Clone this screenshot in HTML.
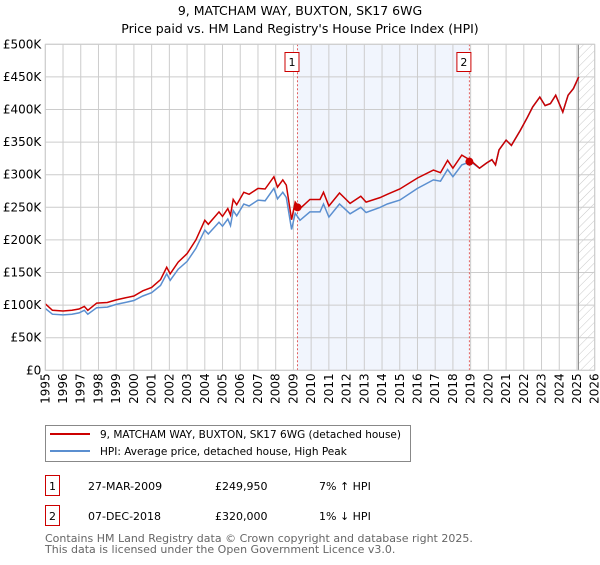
<!DOCTYPE html>
<html><head><meta charset="utf-8"><style>
body{margin:0;background:#fff;font-family:"Liberation Sans","DejaVu Sans",sans-serif;}
</style></head><body>
<svg width="600" height="560" xmlns="http://www.w3.org/2000/svg" font-family="DejaVu Sans, Liberation Sans, sans-serif">
<defs><pattern id="hatch" width="6" height="6" patternUnits="userSpaceOnUse" patternTransform="rotate(45)"><line x1="0" y1="0" x2="0" y2="6" stroke="#bbb" stroke-width="0.8"/></pattern></defs>
<text x="300" y="15" text-anchor="middle" font-size="12.5">9, MATCHAM WAY, BUXTON, SK17 6WG</text>
<text x="300" y="33" text-anchor="middle" font-size="12.5">Price paid vs. HM Land Registry's House Price Index (HPI)</text>
<g id="plot"></g>
<g>
<rect x="45.5" y="425.5" width="365" height="36" fill="#fff" stroke="#888"/>
<line x1="50" y1="434" x2="90" y2="434" stroke="#cc0000" stroke-width="2"/>
<text x="100" y="438" font-size="10.5">9, MATCHAM WAY, BUXTON, SK17 6WG (detached house)</text>
<line x1="50" y1="451" x2="90" y2="451" stroke="#5b8fd0" stroke-width="2"/>
<text x="100" y="455" font-size="10.5">HPI: Average price, detached house, High Peak</text>
</g>
<g font-size="11">
<rect x="45.5" y="475.5" width="14" height="20" fill="#fff" stroke="#cc0000"/>
<text x="52.5" y="490" text-anchor="middle">1</text>
<text x="88" y="490">27-MAR-2009</text><text x="215" y="490">£249,950</text><text x="319" y="490">7% ↑ HPI</text>
<rect x="45.5" y="505.5" width="14" height="20" fill="#fff" stroke="#cc0000"/>
<text x="52.5" y="520" text-anchor="middle">2</text>
<text x="88" y="520">07-DEC-2018</text><text x="215" y="520">£320,000</text><text x="319" y="520">1% ↓ HPI</text>
</g>
<text x="45" y="542" font-size="11" fill="#666">Contains HM Land Registry data © Crown copyright and database right 2025.</text>
<text x="45" y="553" font-size="11" fill="#666">This data is licensed under the Open Government Licence v3.0.</text>
</svg>
<script>
const years=[1995.0,1995.4,1996.0,1996.5,1996.9,1997.2,1997.4,1997.9,1998.5,1999.0,1999.5,2000.0,2000.5,2001.0,2001.5,2001.85,2002.05,2002.5,2003.0,2003.5,2004.0,2004.2,2004.8,2005.0,2005.3,2005.45,2005.6,2005.8,2006.2,2006.5,2007.0,2007.4,2007.9,2008.1,2008.4,2008.6,2008.9,2009.1,2009.37,2009.93,2010.5,2010.7,2011.0,2011.6,2012.2,2012.8,2013.1,2013.9,2014.3,2015.0,2016.0,2016.9,2017.3,2017.7,2018.0,2018.5,2019.0,2019.5,2019.9,2020.2,2020.4,2020.6,2021.0,2021.3,2021.8,2022.2,2022.5,2022.9,2023.2,2023.5,2023.8,2024.2,2024.5,2024.8,2025.1];
const hpiK=[95,86,85,86,88,92,86,96,97,101,104,107,114,119,130,148,138,155,167,187,215,209,227,221,232,222,245,237,255,252,261,260,279,263,273,265,216,241,230,243,243,255,235,255,240,250,242,250,255,261,279,292,290,308,297,315,320,310,318,323,315,338,353,345,368,388,404,419,406,409,422,396,422,432,450];
const priceK=[102,92,91,92,94,98,92,103,104,108,111,114,122,127,139,158,148,166,179,200,230,224,243,236,248,238,262,254,273,270,279,278,297,281,292,284,231,258,248,262,262,273,252,272,256,267,258,265,270,278,295,307,303,322,310,330,322,310,318,323,315,338,353,345,368,388,404,419,406,409,422,396,422,432,450];
const saleYears=[2009.23,2018.93];
const saleK=[249.95,320];
const saleLabels=["1","2"];
const yTicks=[0,50,100,150,200,250,300,350,400,450,500];
const yTickLabels=["£0","£50K","£100K","£150K","£200K","£250K","£300K","£350K","£400K","£450K","£500K"];
const xTicks=[1995,1996,1997,1998,1999,2000,2001,2002,2003,2004,2005,2006,2007,2008,2009,2010,2011,2012,2013,2014,2015,2016,2017,2018,2019,2020,2021,2022,2023,2024,2025,2026];
const X0=45.3,X1=594.7,Y0=370.3,Y1=44.3,dataEnd=2025.08;
function xs(y){return X0+(y-1995)/31*(X1-X0);}
function ys(v){return Y0-v/500*(Y0-Y1);}
const NS="http://www.w3.org/2000/svg",g=document.getElementById('plot');
function mk(t,a){const e=document.createElementNS(NS,t);for(const k in a)e.setAttribute(k,a[k]);g.appendChild(e);return e;}
let e=mk('rect',{x:xs(saleYears[0]),y:Y1,width:xs(saleYears[1])-xs(saleYears[0]),height:Y0-Y1,fill:'#eef3fd',opacity:0.8});


e=mk('rect',{x:xs(dataEnd),y:Y1,width:X1-xs(dataEnd),height:Y0-Y1,fill:'url(#hatch)'});


yTicks.forEach((t,i)=>{
 let l=mk('line',{x1:X0,x2:X1,y1:ys(t),y2:ys(t),stroke:'#ccc','stroke-width':1});
 
 
 let tx=mk('text',{x:X0-4,y:ys(t)+4,'text-anchor':'end','font-size':12});
 tx.textContent=yTickLabels[i];
 
 
});
xTicks.forEach(t=>{
 let l=mk('line',{x1:xs(t),x2:xs(t),y1:Y1,y2:Y0,stroke:'#ccc','stroke-width':1});
 
 
 let tx=mk('text',{x:0,y:0,'text-anchor':'end','font-size':12,transform:`translate(${xs(t)+4},${Y0+3}) rotate(-90)`});
 tx.textContent=t;
 
 
});
e=mk('line',{x1:xs(dataEnd),x2:xs(dataEnd),y1:Y1,y2:Y0,stroke:'#888','stroke-width':1});


saleYears.forEach((sy,i)=>{
 let l=mk('line',{x1:xs(sy),x2:xs(sy),y1:Y1,y2:Y0,stroke:'#e06060','stroke-width':1,'stroke-dasharray':'2,2'});
 
 
});
function path(arr){return arr.map((v,i)=>(i?'L':'M')+xs(years[i]).toFixed(1)+','+ys(v).toFixed(1)).join('');}
e=mk('path',{d:path(hpiK),fill:'none',stroke:'#5b8fd0','stroke-width':1.5});


e=mk('path',{d:path(priceK),fill:'none',stroke:'#cc0000','stroke-width':1.5});


saleYears.forEach((sy,i)=>{
 let c=mk('circle',{cx:xs(sy),cy:ys(saleK[i]),r:4,fill:'#cc0000'});
 
 
 let r=mk('rect',{x:xs(sy)-12.5,y:52.5,width:14,height:19,fill:'#fff',stroke:'#cc0000'});
 
 
 let t=mk('text',{x:xs(sy)-5.5,y:66,'text-anchor':'middle','font-size':11});
 t.textContent=saleLabels[i];
 
 
});
e=mk('rect',{x:X0,y:Y1,width:X1-X0,height:Y0-Y1,fill:'none',stroke:'#ccc'});


</script>
</body></html>
